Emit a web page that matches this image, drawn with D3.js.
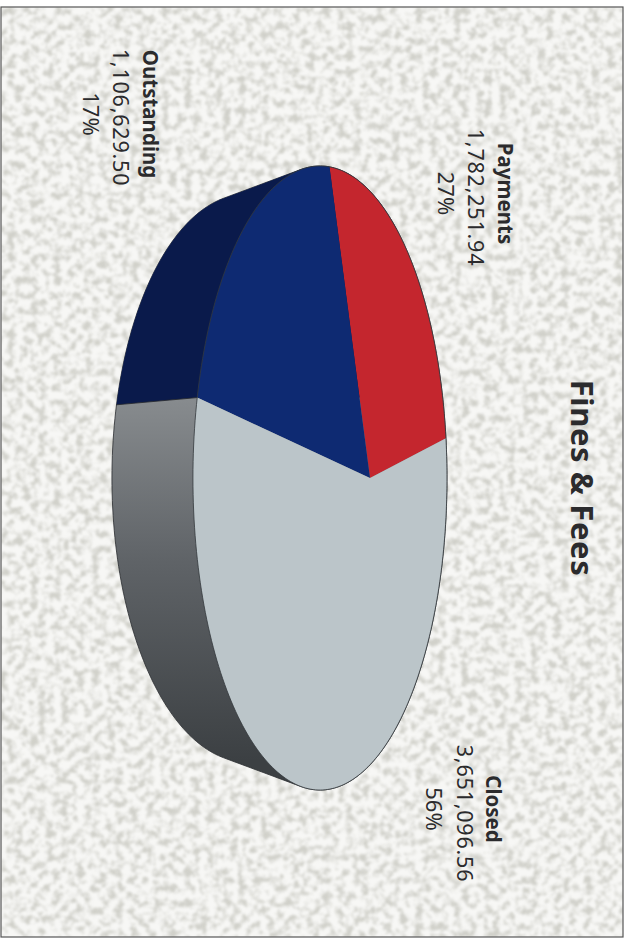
<!DOCTYPE html>
<html><head><meta charset="utf-8">
<script src="https://cdnjs.cloudflare.com/ajax/libs/d3/7.8.5/d3.min.js"></script>
<style>html,body{margin:0;padding:0;background:#fff}svg{display:block}</style>
</head><body><script>
const categories = ["Payments", "Outstanding", "Closed"];
const values = [1782251.94, 1106629.50, 3651096.56];
const valueLabels = ["1,782,251.94", "1,106,629.50", "3,651,096.56"];
const percentLabels = ["27%", "17%", "56%"];
const topColors = ["#c4262e", "#0e2a72", "#bbc5c9"];
const chartTitle = "Fines & Fees";

const W = 630, H = 940;
const svg = d3.select("body").append("svg").attr("width", W).attr("height", H);
const defs = svg.append("defs");

// paper speckle
const f = defs.append("filter").attr("id","speckle").attr("x",0).attr("y",0).attr("width","100%").attr("height","100%")
  .attr("color-interpolation-filters","sRGB");
f.append("feTurbulence").attr("type","fractalNoise").attr("baseFrequency","0.13").attr("numOctaves",4).attr("seed",11).attr("result","n");
f.append("feColorMatrix").attr("in","n").attr("type","matrix")
  .attr("values","0 0 0 0 0.78  0 0 0 0 0.78  0 0 0 0 0.75  3.6 0 0 0 -1.55").attr("result","c");
f.append("feGaussianBlur").attr("in","c").attr("stdDeviation","0.8").attr("result","s");
f.append("feComponentTransfer").attr("in","s").append("feFuncA").attr("type","linear").attr("slope",0.8);

const wallGrad = defs.append("linearGradient").attr("id","wall")
  .attr("gradientUnits","userSpaceOnUse").attr("x1",0).attr("y1",400).attr("x2",0).attr("y2",760);
wallGrad.append("stop").attr("offset",0).attr("stop-color","#878b8e");
wallGrad.append("stop").attr("offset",0.45).attr("stop-color","#5f6367");
wallGrad.append("stop").attr("offset",1).attr("stop-color","#3c4043");

// page
svg.append("rect").attr("width",W).attr("height",H).attr("fill","#fff");
svg.append("rect").attr("x",1).attr("y",7).attr("width",622).attr("height",930).attr("fill","#f7f7f5");
svg.append("rect").attr("x",1).attr("y",7).attr("width",622).attr("height",930).attr("filter","url(#speckle)");
svg.append("rect").attr("x",1).attr("y",7).attr("width",622).attr("height",930).attr("fill","none").attr("stroke","#555").attr("stroke-width",1.2);

// perspective disc geometry
const cx = 370, cy = 478, k = 0.394, a = 286.8, b = 107.3;
const toRad = Math.PI / 180;
const project = phi => {
  const u = -Math.sin(phi), v = Math.cos(phi), w = 1 + k * v;
  return [cx + b * v / w, cy + a * u / w];
};
// extruded rim is the top ellipse scaled and shifted
const upperE = {x:320, y:478, rx:127, ry:312}, lowerE = {x:247, y:478, rx:135, ry:284};
const lower = p => [lowerE.x + (p[0]-upperE.x)*lowerE.rx/upperE.rx, lowerE.y + (p[1]-upperE.y)*lowerE.ry/upperE.ry];

const pie = d3.pie().sort(null).startAngle(11.1*toRad).endAngle(371.1*toRad);
const arcs = pie(values);
const line = d3.line();
const full = d3.range(0, 360, 1).map(d => project(d*toRad));
const hull = d3.polygonHull(full.concat(full.map(lower)));

// side wall
defs.append("clipPath").attr("id","hull").append("path").attr("d", line(hull)+"Z");
svg.append("path").attr("d", line(hull)+"Z").attr("fill","url(#wall)").attr("stroke","#2a2c30").attr("stroke-width",0.8);
const split = project(arcs[1].endAngle), splitLow = lower(split);
svg.append("path").attr("clip-path","url(#hull)").attr("fill","#0a1a4b")
  .attr("d", line([splitLow, split, [split[0]+200, split[1]], [split[0]+200, 0], [0,0], [0, splitLow[1]]])+"Z");
svg.append("path").attr("d", line([split, splitLow])).attr("stroke","#23262b").attr("stroke-width",0.8).attr("fill","none");

// top surface
arcs.forEach((d,i) => {
  const rim = d3.range(d.startAngle, d.endAngle, toRad).concat([d.endAngle]).map(project);
  svg.append("path").attr("d", line([[cx,cy]].concat(rim))+"Z").attr("fill", topColors[i]);
});
svg.append("path").attr("d", line(full)+"Z").attr("fill","none").attr("stroke","#33383c").attr("stroke-width",0.8);

// labels (the whole page is rotated a quarter turn)
const font = "'Noto Sans', sans-serif", ink = "#2b2b2d";
const put = (x,y,t,size,weight,spacing) => svg.append("text")
  .attr("transform",`translate(${x},${y}) rotate(90)`).attr("text-anchor","middle")
  .attr("font-family",font).attr("font-size",size).attr("font-weight",weight)
  .attr("letter-spacing",spacing).attr("fill",ink).text(t);
const labelPos = [[498,193.5,468,197.5,438,193.5],[143,114,113,117.5,83,114],[486,809,457,813.5,426,809]];
categories.forEach((c,i) => {
  const p = labelPos[i];
  put(p[0],p[1],c,20.5,700,0);
  put(p[2],p[3],valueLabels[i],21.5,400,0.8);
  put(p[4],p[5],percentLabels[i],22,400,0);
});
put(571,478,chartTitle,31,700,0.6);
</script></body></html>
